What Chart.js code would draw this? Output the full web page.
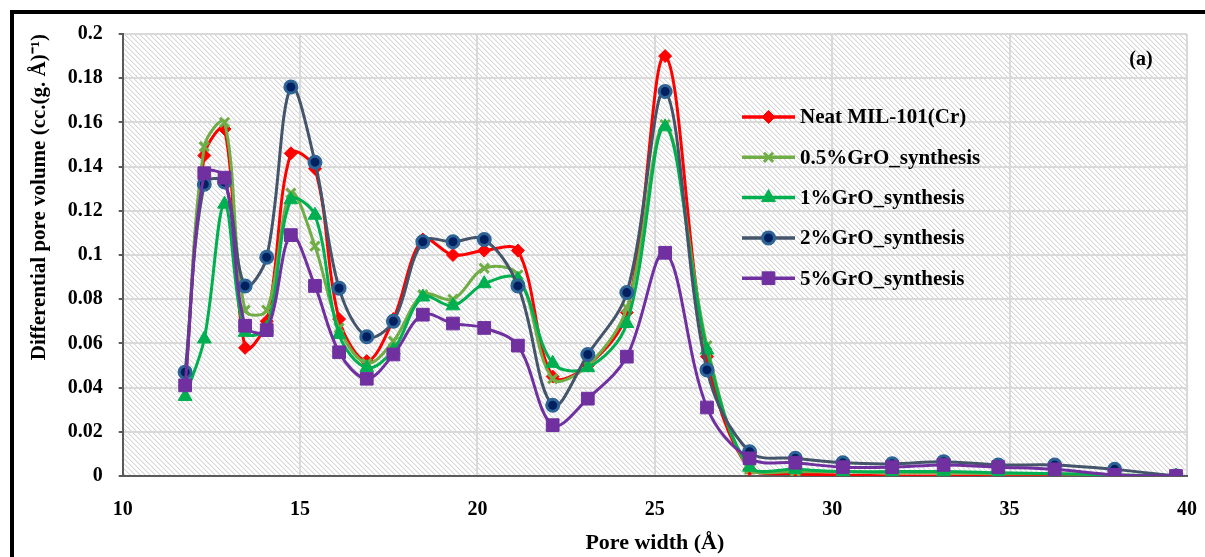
<!DOCTYPE html>
<html>
<head>
<meta charset="utf-8">
<script src="https://cdn.jsdelivr.net/npm/chart.js@4.4.1/dist/chart.umd.min.js"></script>
<style>
  html, body { margin: 0; padding: 0; background: #fff; }
  #wrap { position: relative; width: 1205px; height: 557px; overflow: hidden; }
  #frame { position: absolute; left: 10px; top: 10px; width: 1220px; height: 600px; border: 4px solid #000; box-sizing: border-box; }
  #pore { position: absolute; left: 0; top: 0; }
</style>
</head>
<body>
<div id="wrap">
  <div id="frame"></div>
  <canvas id="pore" width="1205" height="557"></canvas>
</div>
<script>
// pore widths (Å) shared by all samples
const poreWidth = [11.76, 12.30, 12.87, 13.45, 14.06, 14.74, 15.42, 16.10, 16.88, 17.63,
  18.46, 19.31, 20.19, 21.14, 22.12, 23.11, 24.21, 25.29, 26.47, 27.67,
  28.96, 30.30, 31.69, 33.14, 34.68, 36.27, 37.96, 39.69];

// differential pore volume, cc/(g.Å)
const neatMIL = [0.041, 0.145, 0.157, 0.058, 0.070, 0.146, 0.139, 0.071, 0.052, 0.071,
  0.107, 0.100, 0.102, 0.102, 0.045, 0.050, 0.074, 0.190, 0.054, 0.003,
  0.001, 0.0005, 0, 0, 0, 0, 0, 0];
const gro05 = [0.041, 0.149, 0.160, 0.075, 0.075, 0.128, 0.104, 0.067, 0.051, 0.061,
  0.082, 0.080, 0.094, 0.091, 0.044, 0.050, 0.076, 0.159, 0.059, 0.003,
  0.002, 0.002, 0.0015, 0.0015, 0.001, 0.001, 0.0005, 0];
const gro1 = [0.036, 0.062, 0.123, 0.065, 0.067, 0.125, 0.118, 0.064, 0.049, 0.057,
  0.081, 0.077, 0.087, 0.089, 0.051, 0.049, 0.069, 0.158, 0.057, 0.004,
  0.003, 0.002, 0.002, 0.002, 0.0015, 0.001, 0.0005, 0];
const gro2 = [0.047, 0.132, 0.133, 0.086, 0.099, 0.176, 0.142, 0.085, 0.063, 0.070,
  0.106, 0.106, 0.107, 0.086, 0.032, 0.055, 0.083, 0.174, 0.048, 0.011,
  0.008, 0.006, 0.0055, 0.0065, 0.005, 0.005, 0.003, 0];
const gro5 = [0.041, 0.137, 0.135, 0.068, 0.066, 0.109, 0.086, 0.056, 0.044, 0.055,
  0.073, 0.069, 0.067, 0.059, 0.023, 0.035, 0.054, 0.101, 0.031, 0.008,
  0.006, 0.004, 0.004, 0.005, 0.004, 0.003, 0.0005, 0];

const seriesNames = ['Neat MIL-101(Cr)', '0.5%GrO_synthesis', '1%GrO_synthesis', '2%GrO_synthesis', '5%GrO_synthesis'];

const FONT = '"Liberation Serif", "Times New Roman", serif';
Chart.defaults.font.family = FONT;
Chart.defaults.font.weight = 'bold';
Chart.defaults.color = '#000';

function pts(values) {
  return values.map((v, i) => ({ x: poreWidth[i], y: v }));
}

function series(i, values, line, style) {
  return Object.assign({
    label: seriesNames[i],
    data: pts(values),
    borderColor: line,
    borderWidth: 3,
    tension: 0.35,
    fill: false,
    order: 5 - i,          // later samples sit on top
    pointHoverRadius: 0
  }, style);
}

const datasets = [
  series(0, neatMIL, '#ff0000', { pointStyle: 'rectRot', pointRadius: 6.5, pointBackgroundColor: '#ff0000', pointBorderColor: '#ff0000', pointBorderWidth: 1 }),
  series(1, gro05, '#70ad47', { pointStyle: 'crossRot', pointRadius: 6.5, pointBackgroundColor: '#70ad47', pointBorderColor: '#70ad47', pointBorderWidth: 3 }),
  series(2, gro1, '#00b050', { pointStyle: 'triangle', pointRadius: 8, pointBackgroundColor: '#00b050', pointBorderColor: '#00b050', pointBorderWidth: 1 }),
  series(3, gro2, '#44546a', { pointStyle: 'circle', pointRadius: 6, pointBackgroundColor: '#002060', pointBorderColor: '#2e6396', pointBorderWidth: 3 }),
  series(4, gro5, '#7030a0', { pointStyle: 'rect', pointRadius: 9, pointBackgroundColor: '#7030a0', pointBorderColor: '#7030a0', pointBorderWidth: 1 })
];

// diagonal hatch behind the plot
function hatchPattern(ctx) {
  const tile = document.createElement('canvas');
  tile.width = 5; tile.height = 5;
  const t = tile.getContext('2d');
  const img = t.createImageData(5, 5);
  for (let y = 0; y < 5; y++) {
    for (let x = 0; x < 5; x++) {
      const k = (x - y + 10) % 5;
      const c = k === 0 ? 214 : (k === 1 ? 238 : 255);
      const p = (y * 5 + x) * 4;
      img.data[p] = img.data[p + 1] = img.data[p + 2] = c;
      img.data[p + 3] = 255;
    }
  }
  t.putImageData(img, 0, 0);
  return ctx.createPattern(tile, 'repeat');
}

const hatchBg = {
  id: 'hatchBg',
  beforeDraw(chart) {
    const { ctx, chartArea: a } = chart;
    ctx.save();
    ctx.fillStyle = hatchPattern(ctx);
    ctx.fillRect(a.left, a.top, a.right - a.left, a.bottom - a.top);
    ctx.restore();
  }
};

// legend inside the plot, line sample with marker
const innerLegend = {
  id: 'innerLegend',
  afterDraw(chart) {
    const ctx = chart.ctx;
    ctx.save();
    chart.data.datasets.forEach((ds, i) => {
      const y = 117 + i * 40.3;
      ctx.strokeStyle = ds.borderColor;
      ctx.lineWidth = 3.5;
      ctx.beginPath();
      ctx.moveTo(742, y);
      ctx.lineTo(795, y);
      ctx.stroke();
      ctx.fillStyle = ds.pointBackgroundColor;
      ctx.strokeStyle = ds.pointBorderColor;
      ctx.lineWidth = ds.pointBorderWidth;
      Chart.helpers.drawPoint(ctx, {
        pointStyle: ds.pointStyle, radius: ds.pointRadius,
        borderWidth: ds.pointBorderWidth, rotation: 0
      }, 768.5, y);
      ctx.fillStyle = '#000';
      ctx.font = 'bold 21px ' + FONT;
      ctx.textAlign = 'left';
      ctx.textBaseline = 'middle';
      ctx.fillText(ds.label, 800, y + 1);
    });
    ctx.font = 'bold 20px ' + FONT;
    ctx.textAlign = 'center';
    ctx.fillText('(a)', 1141, 60);
    ctx.restore();
  }
};

new Chart(document.getElementById('pore'), {
  type: 'line',
  data: { datasets },
  plugins: [hatchBg, innerLegend],
  options: {
    responsive: false,
    animation: false,
    layout: { padding: { top: 34, right: 18, bottom: 0, left: 0 } },
    plugins: { legend: { display: false }, tooltip: { enabled: false } },
    scales: {
      x: {
        type: 'linear',
        min: 10, max: 40,
        ticks: { stepSize: 5, padding: 22, font: { size: 20 } },
        grid: { color: '#d9d9d9', lineWidth: 2, drawTicks: false },
        border: { color: '#5a5a5a', width: 2 },
        title: { display: true, text: 'Pore width (Å)', font: { size: 22 }, padding: { top: 0, bottom: 0 } },
        afterFit(s) { s.height = 81; s.paddingLeft = 0; s.paddingRight = 0; }
      },
      y: {
        min: 0, max: 0.2,
        ticks: {
          stepSize: 0.02, padding: 16, font: { size: 20 },
          callback: v => String(parseFloat(v.toFixed(2)))
        },
        grid: { color: '#d9d9d9', lineWidth: 2, tickLength: 4, tickColor: '#5a5a5a' },
        border: { color: '#5a5a5a', width: 2 },
        title: {
          display: true, align: 'end',
          text: 'Differential pore volume (cc.(g. Å)⁻¹)',
          font: { size: 21 }, padding: { top: 27, bottom: 0 }
        },
        afterFit(s) { s.width = 122.7; }
      }
    }
  }
});
</script>
</body>
</html>
